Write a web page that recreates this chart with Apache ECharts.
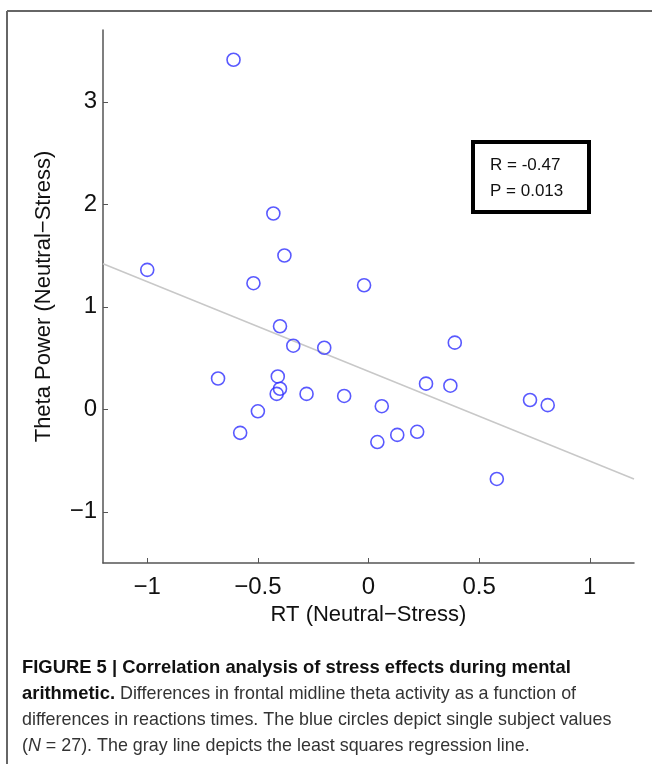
<!DOCTYPE html>
<html>
<head>
<meta charset="utf-8">
<script src="https://cdn.jsdelivr.net/npm/echarts@6.0.0/dist/echarts.min.js"></script>
<style>
  html, body { margin: 0; padding: 0; background: #fff; }
  #chart { width: 652px; height: 764px; }
</style>
</head>
<body>
<div id="chart"></div>
<script>
// single subject values: RT difference vs theta power difference
const rtDiff = [
  -0.61, -1.00, -0.43, -0.38, -0.52, -0.02, -0.40, -0.34, -0.20, 0.39,
  -0.68, -0.41, -0.40, -0.415, -0.28, -0.11, -0.50, -0.58, 0.06, 0.26,
  0.37, 0.04, 0.13, 0.22, 0.58, 0.73, 0.81
];
const thetaDiff = [
  3.41, 1.36, 1.91, 1.50, 1.23, 1.21, 0.81, 0.62, 0.60, 0.65,
  0.30, 0.32, 0.20, 0.15, 0.15, 0.13, -0.02, -0.23, 0.03, 0.25,
  0.23, -0.32, -0.25, -0.22, -0.68, 0.09, 0.04
];
// least squares line, end points
const regX = [-1.2, 1.2];
const regY = [1.42, -0.68];

const xTicks = [-1, -0.5, 0, 0.5, 1];
const yTicks = [-1, 0, 1, 2, 3];

const statLines = ['R = -0.47', 'P = 0.013'];
const captionBold1 = 'FIGURE 5 | Correlation analysis of stress effects during mental';
const captionBold2 = 'arithmetic.';
const captionRest2 = ' Differences in frontal midline theta activity as a function of';
const captionLine3 = 'differences in reactions times. The blue circles depict single subject values';
const captionLine4a = '(';
const captionLine4b = 'N';
const captionLine4c = ' = 27). The gray line depicts the least squares regression line.';

const minus = (v) => String(v).replace('-', '\u2212');
const axisFont = 'Liberation Sans';
const axisColor = '#555';

const chart = echarts.init(document.getElementById('chart'));

const option = {
  backgroundColor: '#fff',
  animation: false,
  grid: { left: 103, right: 18, top: 30, bottom: 201, outerBoundsMode: 'none' },
  xAxis: {
    type: 'value',
    min: -1.2,
    max: 1.2,
    name: 'RT (Neutral\u2212Stress)',
    nameLocation: 'middle',
    nameGap: 39,
    nameTextStyle: { fontFamily: axisFont, fontSize: 22, color: '#111' },
    axisLine: { show: true, onZero: false, lineStyle: { color: axisColor, width: 1.5 } },
    axisTick: { show: true, inside: true, length: 5, customValues: xTicks, lineStyle: { color: axisColor } },
    axisLabel: {
      customValues: xTicks,
      margin: 12,
      rotate: 0,
      fontFamily: axisFont,
      fontSize: 24,
      color: '#111',
      formatter: minus
    },
    splitLine: { show: false }
  },
  yAxis: {
    type: 'value',
    min: -1.5,
    max: 3.7,
    name: 'Theta Power (Neutral\u2212Stress)',
    nameLocation: 'middle',
    nameGap: 48,
    nameTextStyle: { fontFamily: axisFont, fontSize: 22, color: '#111' },
    axisLine: { show: true, onZero: false, lineStyle: { color: axisColor, width: 1.5 } },
    axisTick: { show: true, inside: true, length: 5, customValues: yTicks, lineStyle: { color: axisColor } },
    axisLabel: {
      customValues: yTicks,
      margin: 6,
      rotate: 0,
      fontFamily: axisFont,
      fontSize: 24,
      color: '#111',
      formatter: minus
    },
    splitLine: { show: false }
  },
  series: [
    {
      type: 'line',
      data: regX.map((x, i) => [x, regY[i]]),
      symbol: 'none',
      lineStyle: { color: '#c8c8c8', width: 1.5 },
      silent: true,
      z: 1
    },
    {
      type: 'scatter',
      data: rtDiff.map((x, i) => [x, thetaDiff[i]]),
      symbol: 'circle',
      symbolSize: 13,
      itemStyle: { color: 'rgba(0,0,0,0)', borderColor: '#2f2fff', borderWidth: 1.6 },
      z: 2
    }
  ],
  graphic: [
    // figure frame (top and left edges)
    { type: 'line', shape: { x1: 7, y1: 11, x2: 652, y2: 11 }, style: { stroke: '#666', lineWidth: 2 } },
    { type: 'line', shape: { x1: 7, y1: 11, x2: 7, y2: 764 }, style: { stroke: '#666', lineWidth: 2 } },
    // statistics box
    {
      type: 'rect',
      shape: { x: 473, y: 142, width: 116, height: 70 },
      style: { fill: '#fff', stroke: '#000', lineWidth: 4 }
    },
    {
      type: 'text',
      x: 490, y: 165,
      style: { text: statLines[0], font: '17px "Liberation Sans"', fill: '#111', verticalAlign: 'middle' }
    },
    {
      type: 'text',
      x: 490, y: 191,
      style: { text: statLines[1], font: '17px "Liberation Sans"', fill: '#111', verticalAlign: 'middle' }
    },
    // caption
    {
      type: 'text',
      x: 22, y: 655,
      style: {
        text: '{b|' + captionBold1 + '}\n{b|' + captionBold2 + '}{r|' + captionRest2 + '}\n{r|' + captionLine3 + '}\n{r|' + captionLine4a + '}{i|' + captionLine4b + '}{r|' + captionLine4c + '}',
        rich: {
          b: { fontFamily: 'Liberation Sans', fontSize: 18.4, fontWeight: 'bold', fill: '#111', lineHeight: 26 },
          r: { fontFamily: 'Liberation Sans', fontSize: 17.9, fill: '#333', lineHeight: 26 },
          i: { fontFamily: 'Liberation Sans', fontSize: 17.9, fontStyle: 'italic', fill: '#333', lineHeight: 26 }
        }
      }
    }
  ]
};

chart.setOption(option);
</script>
</body>
</html>
